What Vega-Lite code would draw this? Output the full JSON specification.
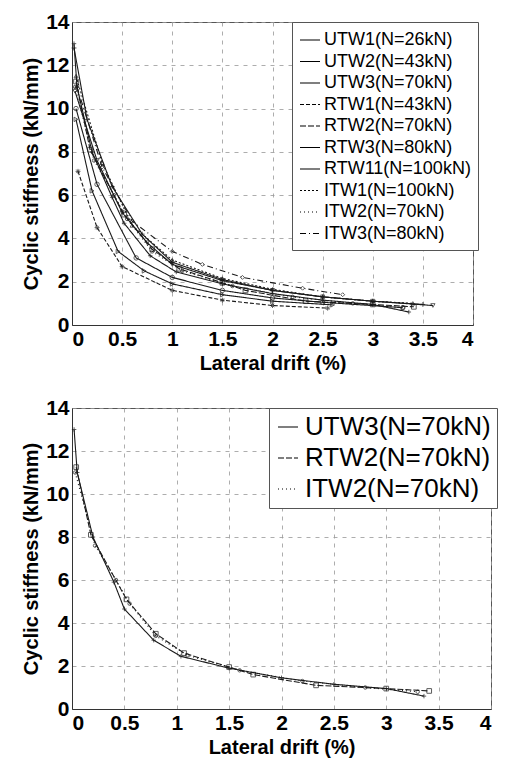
{
  "$schema": "https://vega.github.io/schema/vega-lite/v6.json",
  "padding": {"left": 21, "top": 10, "right": 5, "bottom": 2},
  "background": "white",
  "spacing": 22,
  "resolve": {"scale": {"strokeDash": "independent"}, "legend": {"strokeDash": "independent"}},
  "datasets": {
    "top": [
      {"series": "UTW1(N=26kN)", "x": 0.04, "k": 9.5},
      {"series": "UTW1(N=26kN)", "x": 0.2, "k": 6.2},
      {"series": "UTW1(N=26kN)", "x": 0.46, "k": 3.4},
      {"series": "UTW1(N=26kN)", "x": 0.72, "k": 2.5},
      {"series": "UTW1(N=26kN)", "x": 1.0, "k": 1.9},
      {"series": "UTW1(N=26kN)", "x": 1.5, "k": 1.4},
      {"series": "UTW1(N=26kN)", "x": 2.0, "k": 1.1},
      {"series": "UTW1(N=26kN)", "x": 2.6, "k": 0.93},
      {"series": "UTW2(N=43kN)", "x": 0.04, "k": 10.0},
      {"series": "UTW2(N=43kN)", "x": 0.25, "k": 6.5},
      {"series": "UTW2(N=43kN)", "x": 0.64, "k": 3.1},
      {"series": "UTW2(N=43kN)", "x": 1.0, "k": 2.2},
      {"series": "UTW2(N=43kN)", "x": 1.5, "k": 1.6},
      {"series": "UTW2(N=43kN)", "x": 2.0, "k": 1.25},
      {"series": "UTW2(N=43kN)", "x": 2.5, "k": 1.05},
      {"series": "UTW2(N=43kN)", "x": 3.3, "k": 0.8},
      {"series": "UTW3(N=70kN)", "x": 0.02, "k": 13.0},
      {"series": "UTW3(N=70kN)", "x": 0.05, "k": 11.0},
      {"series": "UTW3(N=70kN)", "x": 0.2, "k": 8.0},
      {"series": "UTW3(N=70kN)", "x": 0.4, "k": 5.9},
      {"series": "UTW3(N=70kN)", "x": 0.52, "k": 4.7},
      {"series": "UTW3(N=70kN)", "x": 0.78, "k": 3.2},
      {"series": "UTW3(N=70kN)", "x": 1.04, "k": 2.45},
      {"series": "UTW3(N=70kN)", "x": 1.5, "k": 1.9},
      {"series": "UTW3(N=70kN)", "x": 2.0, "k": 1.45},
      {"series": "UTW3(N=70kN)", "x": 2.5, "k": 1.15},
      {"series": "UTW3(N=70kN)", "x": 3.0, "k": 0.95},
      {"series": "UTW3(N=70kN)", "x": 3.36, "k": 0.6},
      {"series": "RTW1(N=43kN)", "x": 0.06, "k": 7.1},
      {"series": "RTW1(N=43kN)", "x": 0.25, "k": 4.5},
      {"series": "RTW1(N=43kN)", "x": 0.5, "k": 2.7},
      {"series": "RTW1(N=43kN)", "x": 1.0, "k": 1.6},
      {"series": "RTW1(N=43kN)", "x": 1.5, "k": 1.15},
      {"series": "RTW1(N=43kN)", "x": 2.0, "k": 0.9},
      {"series": "RTW1(N=43kN)", "x": 2.55, "k": 0.78},
      {"series": "RTW2(N=70kN)", "x": 0.04, "k": 11.25},
      {"series": "RTW2(N=70kN)", "x": 0.18, "k": 8.1},
      {"series": "RTW2(N=70kN)", "x": 0.52, "k": 5.1},
      {"series": "RTW2(N=70kN)", "x": 0.8, "k": 3.5},
      {"series": "RTW2(N=70kN)", "x": 1.07, "k": 2.6},
      {"series": "RTW2(N=70kN)", "x": 1.5, "k": 1.95},
      {"series": "RTW2(N=70kN)", "x": 1.73, "k": 1.6},
      {"series": "RTW2(N=70kN)", "x": 2.33, "k": 1.1},
      {"series": "RTW2(N=70kN)", "x": 3.0, "k": 0.95},
      {"series": "RTW2(N=70kN)", "x": 3.41, "k": 0.84},
      {"series": "RTW3(N=80kN)", "x": 0.03, "k": 10.8},
      {"series": "RTW3(N=80kN)", "x": 0.25, "k": 7.6},
      {"series": "RTW3(N=80kN)", "x": 0.5, "k": 5.2},
      {"series": "RTW3(N=80kN)", "x": 0.75, "k": 3.8},
      {"series": "RTW3(N=80kN)", "x": 1.0, "k": 2.8},
      {"series": "RTW3(N=80kN)", "x": 1.5, "k": 2.05},
      {"series": "RTW3(N=80kN)", "x": 2.0, "k": 1.6},
      {"series": "RTW3(N=80kN)", "x": 2.5, "k": 1.3},
      {"series": "RTW3(N=80kN)", "x": 3.0, "k": 1.1},
      {"series": "RTW3(N=80kN)", "x": 3.6, "k": 0.9},
      {"series": "RTW11(N=100kN)", "x": 0.02, "k": 12.8},
      {"series": "RTW11(N=100kN)", "x": 0.15, "k": 9.5},
      {"series": "RTW11(N=100kN)", "x": 0.4, "k": 6.4},
      {"series": "RTW11(N=100kN)", "x": 0.7, "k": 4.2},
      {"series": "RTW11(N=100kN)", "x": 1.0, "k": 2.9},
      {"series": "RTW11(N=100kN)", "x": 1.5, "k": 2.1},
      {"series": "RTW11(N=100kN)", "x": 2.0, "k": 1.6},
      {"series": "RTW11(N=100kN)", "x": 2.5, "k": 1.3},
      {"series": "RTW11(N=100kN)", "x": 3.0, "k": 1.1},
      {"series": "RTW11(N=100kN)", "x": 3.5, "k": 0.95},
      {"series": "ITW1(N=100kN)", "x": 0.04, "k": 11.5},
      {"series": "ITW1(N=100kN)", "x": 0.3, "k": 7.5},
      {"series": "ITW1(N=100kN)", "x": 0.6, "k": 4.6},
      {"series": "ITW1(N=100kN)", "x": 1.0, "k": 3.0},
      {"series": "ITW1(N=100kN)", "x": 1.5, "k": 2.15},
      {"series": "ITW1(N=100kN)", "x": 2.0, "k": 1.65},
      {"series": "ITW1(N=100kN)", "x": 2.5, "k": 1.3},
      {"series": "ITW1(N=100kN)", "x": 3.0, "k": 1.1},
      {"series": "ITW1(N=100kN)", "x": 3.4, "k": 1.0},
      {"series": "ITW2(N=70kN)", "x": 0.03, "k": 11.0},
      {"series": "ITW2(N=70kN)", "x": 0.22, "k": 7.6},
      {"series": "ITW2(N=70kN)", "x": 0.42, "k": 6.0},
      {"series": "ITW2(N=70kN)", "x": 0.55, "k": 4.9},
      {"series": "ITW2(N=70kN)", "x": 0.8, "k": 3.4},
      {"series": "ITW2(N=70kN)", "x": 1.1, "k": 2.5},
      {"series": "ITW2(N=70kN)", "x": 1.6, "k": 1.8},
      {"series": "ITW2(N=70kN)", "x": 2.2, "k": 1.3},
      {"series": "ITW2(N=70kN)", "x": 2.8, "k": 1.0},
      {"series": "ITW2(N=70kN)", "x": 3.3, "k": 0.8},
      {"series": "ITW3(N=80kN)", "x": 0.05, "k": 11.0},
      {"series": "ITW3(N=80kN)", "x": 0.3, "k": 7.3},
      {"series": "ITW3(N=80kN)", "x": 0.6, "k": 4.8},
      {"series": "ITW3(N=80kN)", "x": 1.0, "k": 3.4},
      {"series": "ITW3(N=80kN)", "x": 1.3, "k": 2.8},
      {"series": "ITW3(N=80kN)", "x": 1.7, "k": 2.2},
      {"series": "ITW3(N=80kN)", "x": 2.3, "k": 1.7},
      {"series": "ITW3(N=80kN)", "x": 2.7, "k": 1.4}
    ],
    "bottom": [
      {"series": "UTW3(N=70kN)", "x": 0.02, "k": 13.0},
      {"series": "UTW3(N=70kN)", "x": 0.05, "k": 11.0},
      {"series": "UTW3(N=70kN)", "x": 0.2, "k": 8.0},
      {"series": "UTW3(N=70kN)", "x": 0.4, "k": 5.9},
      {"series": "UTW3(N=70kN)", "x": 0.5, "k": 4.65},
      {"series": "UTW3(N=70kN)", "x": 0.78, "k": 3.2},
      {"series": "UTW3(N=70kN)", "x": 1.04, "k": 2.45},
      {"series": "UTW3(N=70kN)", "x": 1.5, "k": 1.9},
      {"series": "UTW3(N=70kN)", "x": 2.0, "k": 1.45},
      {"series": "UTW3(N=70kN)", "x": 2.5, "k": 1.15},
      {"series": "UTW3(N=70kN)", "x": 3.0, "k": 0.95},
      {"series": "UTW3(N=70kN)", "x": 3.36, "k": 0.6},
      {"series": "RTW2(N=70kN)", "x": 0.04, "k": 11.25},
      {"series": "RTW2(N=70kN)", "x": 0.18, "k": 8.1},
      {"series": "RTW2(N=70kN)", "x": 0.52, "k": 5.1},
      {"series": "RTW2(N=70kN)", "x": 0.8, "k": 3.5},
      {"series": "RTW2(N=70kN)", "x": 1.07, "k": 2.6},
      {"series": "RTW2(N=70kN)", "x": 1.5, "k": 1.95},
      {"series": "RTW2(N=70kN)", "x": 1.73, "k": 1.6},
      {"series": "RTW2(N=70kN)", "x": 2.33, "k": 1.1},
      {"series": "RTW2(N=70kN)", "x": 3.0, "k": 0.95},
      {"series": "RTW2(N=70kN)", "x": 3.41, "k": 0.84},
      {"series": "ITW2(N=70kN)", "x": 0.03, "k": 11.0},
      {"series": "ITW2(N=70kN)", "x": 0.22, "k": 7.6},
      {"series": "ITW2(N=70kN)", "x": 0.42, "k": 6.0},
      {"series": "ITW2(N=70kN)", "x": 0.55, "k": 4.9},
      {"series": "ITW2(N=70kN)", "x": 0.8, "k": 3.4},
      {"series": "ITW2(N=70kN)", "x": 1.1, "k": 2.5},
      {"series": "ITW2(N=70kN)", "x": 1.6, "k": 1.8},
      {"series": "ITW2(N=70kN)", "x": 2.2, "k": 1.3},
      {"series": "ITW2(N=70kN)", "x": 2.8, "k": 1.0},
      {"series": "ITW2(N=70kN)", "x": 3.3, "k": 0.8}
    ]
  },
  "vconcat": [
    {
      "width": 401,
      "height": 303,
      "data": {"name": "top"},
      "encoding": {
        "x": {"field": "x", "type": "quantitative", "title": "Lateral drift (%)",
              "scale": {"domain": [0, 4], "nice": false},
              "axis": {"values": [0, 0.5, 1, 1.5, 2, 2.5, 3, 3.5, 4], "labelExpr": "'' + datum.value"}},
        "y": {"field": "k", "type": "quantitative", "title": "Cyclic stiffness (kN/mm)",
              "scale": {"domain": [0, 14], "nice": false},
              "axis": {"values": [0, 2, 4, 6, 8, 10, 12, 14]}}
      },
      "layer": [
        {
          "mark": {"type": "line", "color": "#1a1a1a", "strokeWidth": 1.1},
          "encoding": {
            "strokeDash": {"field": "series", "type": "nominal", "title": null,
              "scale": {
                "domain": ["UTW1(N=26kN)", "UTW2(N=43kN)", "UTW3(N=70kN)", "RTW1(N=43kN)", "RTW2(N=70kN)", "RTW3(N=80kN)", "RTW11(N=100kN)", "ITW1(N=100kN)", "ITW2(N=70kN)", "ITW3(N=80kN)"],
                "range": [[1, 0], [1, 0], [1, 0], [4, 2], [6, 2], [1, 0], [1, 0], [2, 2], [1, 3], [6, 3, 1, 3]]
              },
              "legend": {"orient": "none", "legendX": 220, "legendY": 0, "symbolType": "stroke", "symbolSize": 400,
                         "labelFontSize": 18, "rowPadding": 1.5, "padding": 7, "symbolStrokeWidth": 1.2,
                         "symbolStrokeColor": "#000", "strokeColor": "#555", "fillColor": "white", "labelOffset": 3}}
          }
        },
        {"transform": [{"filter": {"field": "series", "equal": "UTW1(N=26kN)"}}], "mark": {"type": "point", "shape": "triangle-right", "color": "#1a1a1a", "size": 20, "strokeWidth": 1}},
        {"transform": [{"filter": {"field": "series", "equal": "UTW2(N=43kN)"}}], "mark": {"type": "point", "shape": "circle", "color": "#1a1a1a", "size": 20, "strokeWidth": 1}},
        {"transform": [{"filter": {"field": "series", "equal": "UTW3(N=70kN)"}}], "mark": {"type": "point", "shape": "M-1,0L1,0M0,-1L0,1", "color": "#1a1a1a", "size": 20, "strokeWidth": 1}},
        {"transform": [{"filter": {"field": "series", "equal": "RTW1(N=43kN)"}}], "mark": {"type": "point", "shape": "M-1,0L1,0M0,-1L0,1M-0.7,-0.7L0.7,0.7M-0.7,0.7L0.7,-0.7", "color": "#1a1a1a", "size": 24, "strokeWidth": 1}},
        {"transform": [{"filter": {"field": "series", "equal": "RTW2(N=70kN)"}}], "mark": {"type": "point", "shape": "square", "color": "#1a1a1a", "size": 22, "strokeWidth": 1}},
        {"transform": [{"filter": {"field": "series", "equal": "RTW3(N=80kN)"}}], "mark": {"type": "point", "shape": "triangle-down", "color": "#1a1a1a", "size": 18, "strokeWidth": 1}},
        {"transform": [{"filter": {"field": "series", "equal": "RTW11(N=100kN)"}}], "mark": {"type": "point", "shape": "M-1,0L1,0M0,-1L0,1", "color": "#1a1a1a", "size": 24, "strokeWidth": 1}},
        {"transform": [{"filter": {"field": "series", "equal": "ITW1(N=100kN)"}}], "mark": {"type": "point", "shape": "triangle-up", "color": "#1a1a1a", "size": 16, "strokeWidth": 1}},
        {"transform": [{"filter": {"field": "series", "equal": "ITW2(N=70kN)"}}], "mark": {"type": "point", "shape": "circle", "color": "#1a1a1a", "size": 12, "strokeWidth": 1}},
        {"transform": [{"filter": {"field": "series", "equal": "ITW3(N=80kN)"}}], "mark": {"type": "point", "shape": "diamond", "color": "#1a1a1a", "size": 16, "strokeWidth": 1}}
      ]
    },
    {
      "width": 419,
      "height": 301,
      "data": {"name": "bottom"},
      "encoding": {
        "x": {"field": "x", "type": "quantitative", "title": "Lateral drift (%)",
              "scale": {"domain": [0, 4], "nice": false},
              "axis": {"values": [0, 0.5, 1, 1.5, 2, 2.5, 3, 3.5, 4], "labelExpr": "'' + datum.value"}},
        "y": {"field": "k", "type": "quantitative", "title": "Cyclic stiffness (kN/mm)",
              "scale": {"domain": [0, 14], "nice": false},
              "axis": {"values": [0, 2, 4, 6, 8, 10, 12, 14]}}
      },
      "layer": [
        {
          "mark": {"type": "line", "color": "#1a1a1a", "strokeWidth": 1.1},
          "encoding": {
            "strokeDash": {"field": "series", "type": "nominal", "title": null,
              "scale": {
                "domain": ["UTW3(N=70kN)", "RTW2(N=70kN)", "ITW2(N=70kN)"],
                "range": [[1, 0], [6, 2], [1, 3]]
              },
              "legend": {"orient": "none", "legendX": 197, "legendY": 0, "symbolType": "stroke", "symbolSize": 400,
                         "labelFontSize": 26, "rowPadding": 5, "padding": 6, "symbolStrokeWidth": 1.2,
                         "symbolStrokeColor": "#000", "strokeColor": "#555", "fillColor": "white", "labelOffset": 4}}
          }
        },
        {"transform": [{"filter": {"field": "series", "equal": "UTW3(N=70kN)"}}], "mark": {"type": "point", "shape": "M-1,0L1,0M0,-1L0,1", "color": "#1a1a1a", "size": 20, "strokeWidth": 1}},
        {"transform": [{"filter": {"field": "series", "equal": "RTW2(N=70kN)"}}], "mark": {"type": "point", "shape": "square", "color": "#1a1a1a", "size": 22, "strokeWidth": 1}},
        {"transform": [{"filter": {"field": "series", "equal": "ITW2(N=70kN)"}}], "mark": {"type": "point", "shape": "circle", "color": "#1a1a1a", "size": 12, "strokeWidth": 1}}
      ]
    }
  ],
  "config": {
    "font": "Liberation Sans",
    "view": {"stroke": "#555", "strokeWidth": 1},
    "axis": {
      "labelFontSize": 21, "labelFontWeight": "bold", "labelColor": "#000", "labelFont": "Liberation Sans",
      "titleFontSize": 20, "titleFontWeight": "bold", "titleColor": "#000", "titleFont": "Liberation Sans",
      "gridDash": [4, 5], "gridColor": "#999", "gridOpacity": 0.8,
      "domainColor": "#333", "ticks": false, "labelPadding": 3, "titlePadding": 4
    },
    "legend": {"labelFont": "Liberation Sans", "labelColor": "#000", "labelLimit": 400}
  }
}
